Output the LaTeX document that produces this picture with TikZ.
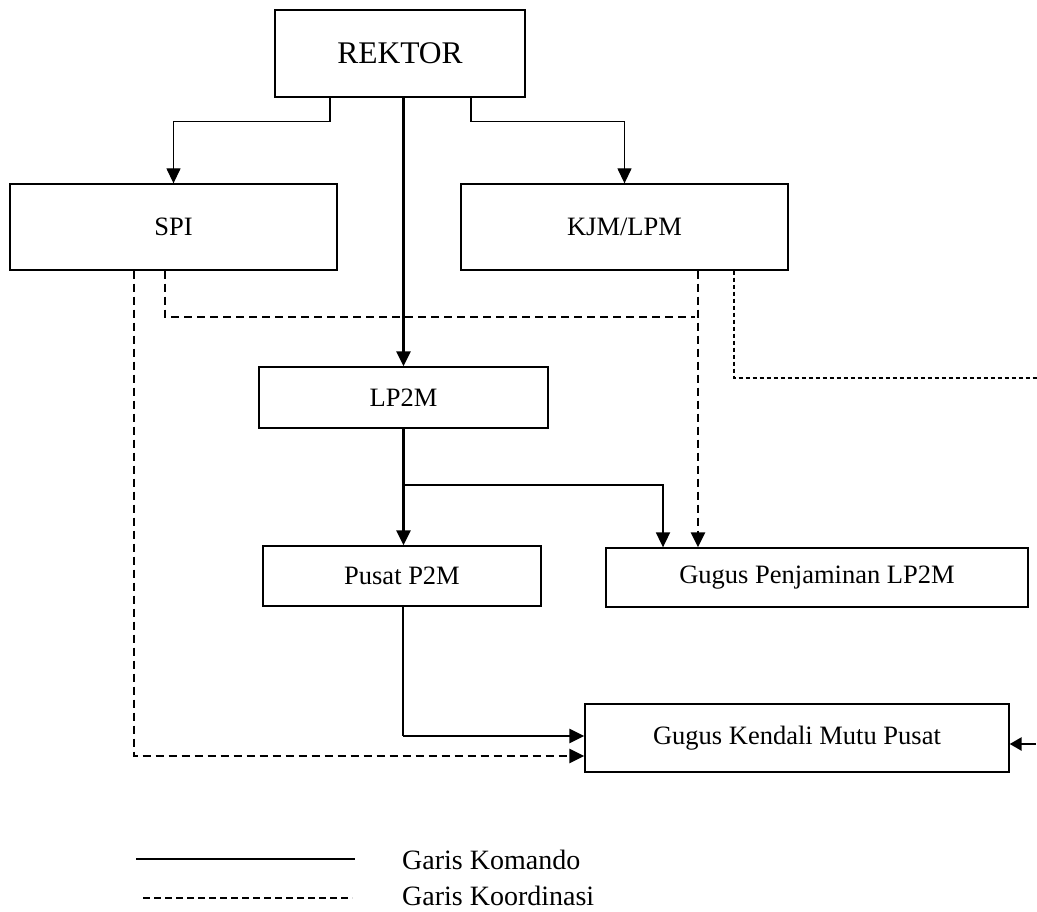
\documentclass[tikz,border=0pt]{standalone}
\usepackage{fontspec}
\setmainfont{Liberation Serif}
\usetikzlibrary{arrows.meta,calc}
\begin{document}
\begin{tikzpicture}[x=1pt,y=-1pt,
  box/.style={draw,line width=1.3pt,inner sep=0pt,font=\fontsize{26.5}{30}\selectfont},
  cmd/.style={line width=1.3pt},
  cmdmid/.style={line width=1.8pt},
  cmdthick/.style={line width=2.6pt},
  tip/.style={-{Triangle[length=15pt,width=14pt]}},
  coordl/.style={line width=2.4pt,dash pattern=on 8pt off 5pt},
  coordthin/.style={line width=1.2pt,dash pattern=on 4pt off 3pt},
  legtext/.style={anchor=base west,inner sep=0pt,font=\fontsize{28}{30}\selectfont}]
\path[use as bounding box] (0,0) rectangle (1037,912);

% boxes
\node[box,minimum width=250pt,minimum height=87pt,font=\fontsize{31.5}{34}\selectfont] (rektor) at (400,53.5) {REKTOR};
\node[box,minimum width=327pt,minimum height=86pt] (spi) at (173.5,227) {SPI};
\node[box,minimum width=327pt,minimum height=86pt] (kjm) at (624.5,227) {KJM/LPM};
\node[box,minimum width=289pt,minimum height=61pt] (lp2m) at (403.5,397.5) {LP2M};
\node[box,minimum width=278pt,minimum height=60pt] (pusat) at (402,576) {Pusat P2M};
\node[box,minimum width=422pt,minimum height=59pt] (penj) at (817,577.5) {Gugus Penjaminan LP2M};
\node[box,minimum width=424pt,minimum height=68pt] (kendali) at (797,738) {Gugus Kendali Mutu Pusat};

% command lines
\draw[cmd,tip] ([xshift=-70pt]rektor.south) -- ++(0,24) -| (spi.north);
\draw[cmd,tip] ([xshift=71pt]rektor.south) -- ++(0,24) -| (kjm.north);
\draw[cmdthick,tip] (rektor.south -| lp2m.north) -- (lp2m.north);
\draw[cmdthick,tip] (lp2m.south) -- (lp2m.south |- pusat.north);
\coordinate (br) at ($(lp2m.south)+(0,56)$);
\draw[cmdmid,tip] (br) -| ([xshift=-154pt]penj.north);
\coordinate (kp) at ([yshift=2pt]kendali.west);
\draw[cmd] ([xshift=1pt]pusat.south) -- ([xshift=1pt]pusat.south |- kp);
\draw[cmdthick,tip] ([xshift=1pt]pusat.south |- kp) -- (kp);

% coordination lines
\coordinate (kd) at ([xshift=73.5pt]kjm.south);
\draw[coordl,line width=2.8pt,tip] (kd) -- (kd |- penj.north);
\coordinate (jn) at ($(kd)+(-3,46)$);
\draw[coordl,line width=2pt] ([xshift=-8.5pt]spi.south) |- (jn);
\coordinate (edge) at (1037,378);
\draw[coordthin] ([xshift=109.5pt]kjm.south) |- (edge);
\draw[coordl,tip] ([xshift=-39.5pt]spi.south) |- ([yshift=-18pt]kendali.west);
\coordinate (rin) at (1036,744);
\draw[cmdthick,-{Triangle[length=12pt,width=13pt]}] (rin) -- (rin -| kendali.east);

% legend
\coordinate (la) at (136,859);
\coordinate (lb) at (355,859);
\draw[cmd] (la) -- (lb);
\node[legtext] (lk) at (402,869) {Garis Komando};
\coordinate (lc) at (143,898);
\coordinate (ld) at (352,898);
\draw[line width=1.2pt,dash pattern=on 7pt off 4pt] (lc) -- (ld);
\node[legtext] (lo) at (402,905) {Garis Koordinasi};
\end{tikzpicture}
\end{document}
